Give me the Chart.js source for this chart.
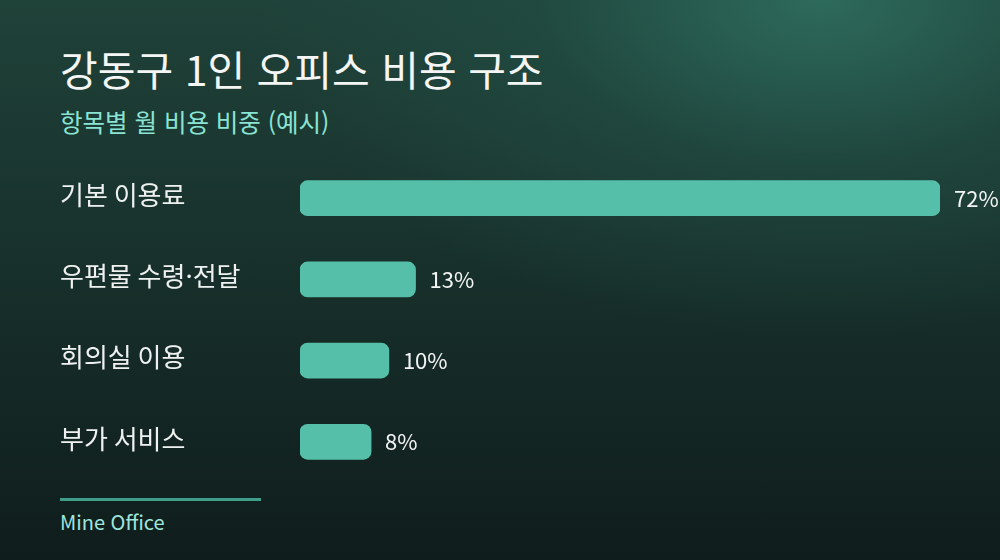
<!DOCTYPE html>
<html lang="ko">
<head>
<meta charset="utf-8">
<script src="https://cdn.jsdelivr.net/npm/chart.js@4/dist/chart.umd.min.js"></script>
<style>
  html, body { margin: 0; padding: 0; }
  body {
    width: 1000px; height: 560px; overflow: hidden; position: relative;
    font-family: "Noto Sans CJK KR", "Noto Sans", sans-serif;
    background:
      radial-gradient(ellipse 70% 75% at 82% 0%, rgba(46,108,94,0.95) 0%, rgba(34,78,68,0.6) 40%, rgba(20,44,40,0) 80%),
      linear-gradient(180deg, #1f4239 0%, #172f2a 50%, #0f1d1c 100%);
  }
  .title { position: absolute; left: 60px; top: 40px; margin: 0; font-size: 41px; font-weight: 400; color: #f4f6f5; line-height: 56px; }
  .subtitle { position: absolute; left: 60px; top: 106px; margin: 0; font-size: 24.5px; font-weight: 400; color: #8ae4d4; line-height: 32px; }
  .chart-box { position: absolute; left: 60px; top: 142px; width: 940px; height: 356px; }
  .rule { position: absolute; left: 60px; top: 498px; width: 201px; height: 3px; background: #3f9e89; }
  .brand { position: absolute; left: 60px; top: 508px; font-size: 20px; color: #9fe6dc; line-height: 28px; }
</style>
</head>
<body>
<h1 class="title">강동구 1인 오피스 비용 구조</h1>
<p class="subtitle">항목별 월 비용 비중 (예시)</p>
<div class="chart-box"><canvas id="costChart"></canvas></div>
<div class="rule"></div>
<div class="brand">Mine Office</div>

<script>
// cost share per item (%)
const categories = ["기본 이용료", "우편물 수령·전달", "회의실 이용", "부가 서비스"];
const shares = [72, 13, 10, 8];

// draws "72%" etc. just past the end of each bar
const valueLabels = {
  id: "valueLabels",
  afterDatasetsDraw(chart) {
    const ctx = chart.ctx;
    const meta = chart.getDatasetMeta(0);
    ctx.save();
    ctx.font = '22px "Noto Sans CJK KR", "Noto Sans", sans-serif';
    ctx.fillStyle = "#f2f4f3";
    ctx.textBaseline = "middle";
    meta.data.forEach((bar, i) => {
      ctx.fillText(shares[i] + "%", bar.x + 14, bar.y);
    });
    ctx.restore();
  }
};

const ctx = document.getElementById("costChart");
new Chart(ctx, {
  type: "bar",
  data: {
    labels: categories,
    datasets: [
      {
        data: shares,
        backgroundColor: "#55bfa9",
        borderRadius: 8,
        borderSkipped: false,
        barThickness: 35,
      },
    ],
  },
  options: {
    indexAxis: "y",
    responsive: true,
    maintainAspectRatio: false,
    animation: false,
    layout: { padding: { left: 0, right: 60, top: 0, bottom: 0 } },
    plugins: {
      legend: { display: false },
      tooltip: { enabled: false },
    },
    scales: {
      x: {
        min: 0,
        max: 72,
        display: false,
      },
      y: {
        grid: { display: false },
        border: { display: false },
        afterFit(scale) { scale.width = 240; },
        ticks: {
          crossAlign: "far",
          padding: 0,
          labelOffset: -3,
          color: "#eef1f0",
          font: { family: '"Noto Sans CJK KR", "Noto Sans", sans-serif', size: 26 },
        },
      },
    },
  },
  plugins: [valueLabels],
});
</script>
</body>
</html>
